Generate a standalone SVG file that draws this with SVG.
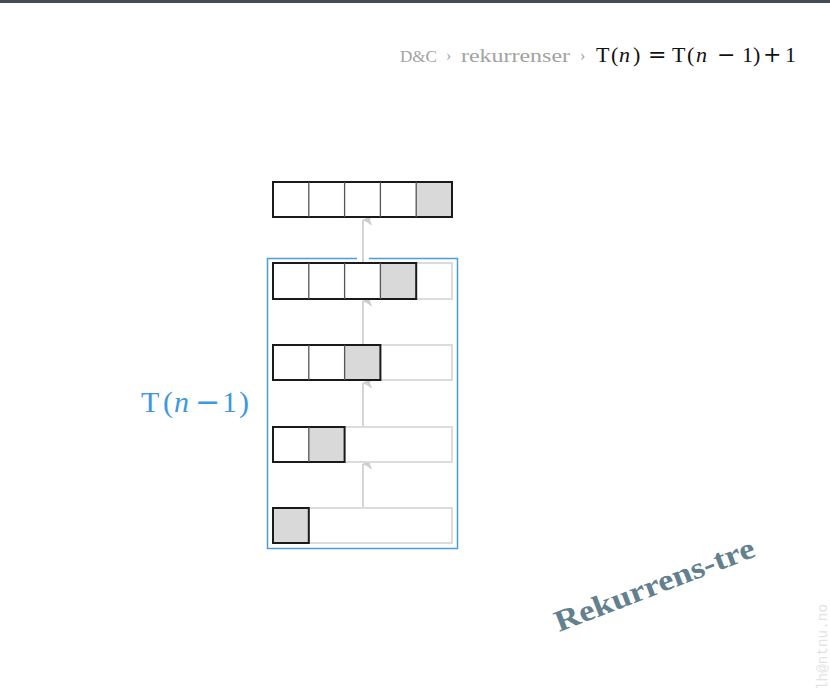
<svg xmlns="http://www.w3.org/2000/svg" width="830" height="696" viewBox="0 0 830 696">
<style>
.cell{fill:#ffffff;stroke:#1a1a1a;stroke-width:2}
.fill{fill:#d9d9d9}
.div{stroke:#555;stroke-width:1.3}
.ghost{fill:#ffffff;stroke:#dcdcdc;stroke-width:2}
.arr{stroke:#d4d4d4;stroke-width:2;fill:none}
.serif{font-family:"Liberation Serif","DejaVu Serif",serif}
.op{font-family:"DejaVu Serif","Liberation Serif",serif;font-style:normal}
.crumb{fill:#a3a3a3}
.math{fill:#111111;font-size:22px}
.blue{fill:#3d98de;font-size:30px}
.it{font-style:italic}
</style>
<defs>
<marker id="ah" viewBox="-7 -1 14 11" refX="0" refY="0" markerWidth="14" markerHeight="11" markerUnits="userSpaceOnUse" orient="auto-start-reverse">
<path d="M0,0 Q1.2,4 5,8.5 L0,6.5 L-5,8.5 Q-1.2,4 0,0 Z" fill="#cdcdcd" stroke="#cdcdcd" stroke-width="0.8" stroke-linejoin="round"/>
</marker>
</defs>
<rect x="0" y="0" width="830" height="3" fill="#454b52"/>
<g id="breadcrumb" class="serif">
<text x="400" y="62" class="crumb" font-size="16" textLength="37" lengthAdjust="spacingAndGlyphs">D&amp;C</text>
<text x="446" y="61" class="crumb" font-size="16">›</text>
<text x="461" y="62" class="crumb" font-size="19" textLength="109" lengthAdjust="spacingAndGlyphs">rekurrenser</text>
<text x="580" y="61" class="crumb" font-size="16">›</text>
<text y="62" class="math"><tspan x="596">T</tspan><tspan x="611">(</tspan><tspan x="619" class="it">n</tspan><tspan x="633">)</tspan></text>
<text x="648" y="62" class="math op">=</text>
<text y="62" class="math"><tspan x="672">T</tspan><tspan x="687">(</tspan><tspan x="696" class="it">n</tspan></text>
<text x="717" y="62" class="math op">−</text>
<text y="62" class="math"><tspan x="742">1</tspan><tspan x="753">)</tspan></text>
<text x="763" y="62" class="math op">+</text>
<text x="785" y="62" class="math">1</text>
</g>
<g id="connectors">
<line x1="363" y1="263" x2="363" y2="220" class="arr" marker-end="url(#ah)"/>
<line x1="363" y1="345" x2="363" y2="301" class="arr" marker-end="url(#ah)"/>
<line x1="363" y1="427" x2="363" y2="383" class="arr" marker-end="url(#ah)"/>
<line x1="363" y1="508" x2="363" y2="464" class="arr" marker-end="url(#ah)"/>
</g>
<g id="group-box">
<path d="M357,258.5 H267.5 V548.5 H457.5 V258.5 H369" fill="none" stroke="#4a9de0" stroke-width="1.5"/>
<g class="serif">
<text y="412" class="blue"><tspan x="141">T</tspan><tspan x="163">(</tspan><tspan x="174" class="it">n</tspan></text>
<text x="195" y="412" class="blue op">−</text>
<text y="412" class="blue"><tspan x="222">1</tspan><tspan x="239">)</tspan></text>
</g>
</g>
<g id="row1">
<rect x="273" y="182" width="179" height="35" class="cell"/>
<rect x="416.2" y="182" width="35.8" height="35" class="fill"/>
<rect x="273" y="182" width="179" height="35" fill="none" stroke="#1a1a1a" stroke-width="2"/>
<path d="M308.8,182V217M344.6,182V217M380.4,182V217M416.2,182V217" class="div"/>
</g>
<g id="row2">
<rect x="273" y="263" width="179" height="36" class="ghost"/>
<rect x="380.4" y="263" width="35.8" height="36" class="fill"/>
<rect x="273" y="263" width="143.2" height="36" fill="none" stroke="#1a1a1a" stroke-width="2"/>
<path d="M308.8,263V299M344.6,263V299M380.4,263V299" class="div"/>
</g>
<g id="row3">
<rect x="273" y="345" width="179" height="35" class="ghost"/>
<rect x="344.6" y="345" width="35.8" height="35" class="fill"/>
<rect x="273" y="345" width="107.4" height="35" fill="none" stroke="#1a1a1a" stroke-width="2"/>
<path d="M308.8,345V380M344.6,345V380" class="div"/>
</g>
<g id="row4">
<rect x="273" y="427" width="179" height="35" class="ghost"/>
<rect x="308.8" y="427" width="35.8" height="35" class="fill"/>
<rect x="273" y="427" width="71.6" height="35" fill="none" stroke="#1a1a1a" stroke-width="2"/>
<path d="M308.8,427V462" class="div"/>
</g>
<g id="row5">
<rect x="273" y="508" width="179" height="35" class="ghost"/>
<rect x="273" y="508" width="35.8" height="35" class="fill" stroke="#1a1a1a" stroke-width="2"/>
</g>
<text transform="translate(559,632) rotate(-21)" class="serif" font-weight="bold" font-size="30" fill="#62808e" textLength="212" lengthAdjust="spacingAndGlyphs">Rekurrens-tre</text>
<text transform="translate(827,690) rotate(-90)" font-family="'Liberation Mono',monospace" font-size="14" fill="#e3e3e3" textLength="86" lengthAdjust="spacingAndGlyphs">lh@ntnu.no</text>
</svg>
